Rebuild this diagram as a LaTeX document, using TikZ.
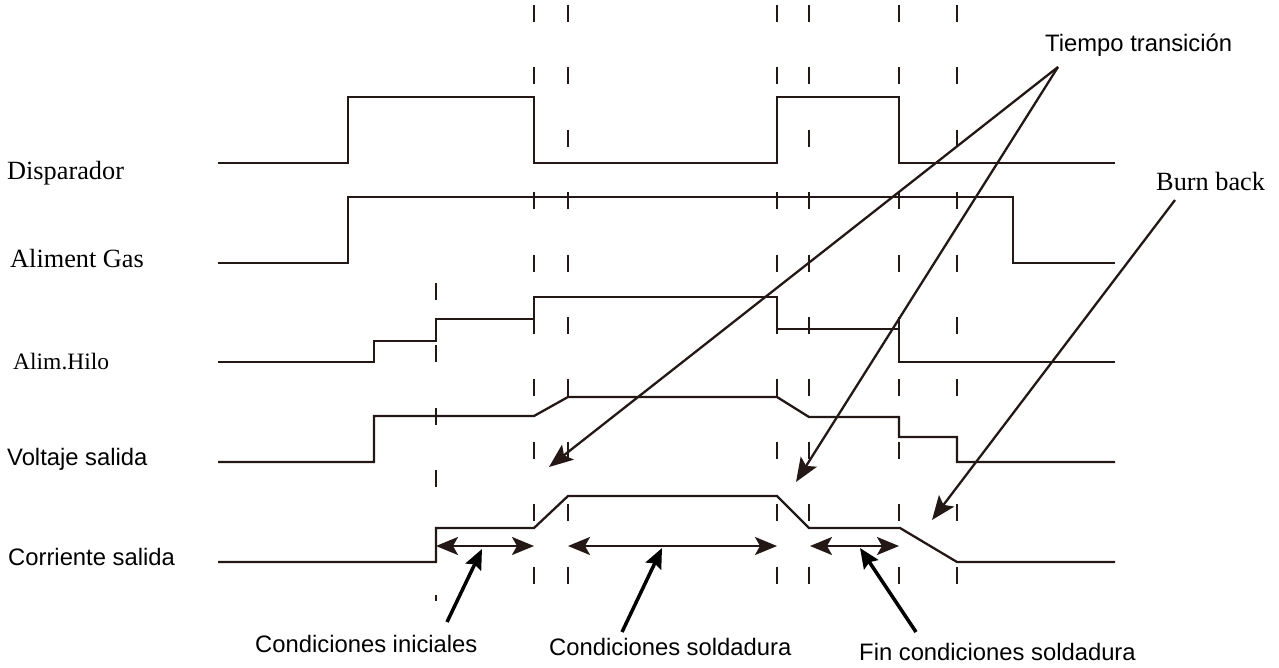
\documentclass[tikz,border=0pt]{standalone}
\usepackage{fontspec}
\setmainfont{Liberation Sans}
\newfontfamily\timesfont{Liberation Serif}
\usetikzlibrary{arrows.meta}
\definecolor{ink}{RGB}{35,24,21}

\begin{document}
\begin{tikzpicture}[
  x=1pt, y=-1pt,
  signal/.style={draw=ink, line width=2.3pt},
  guide/.style={draw=ink, line width=1.5pt, dash pattern=on 17pt off 45.4pt},
  sanslabel/.style={anchor=base west, inner sep=0pt, font=\fontsize{23.8}{28}\selectfont},
  seriflabel/.style={anchor=base west, inner sep=0pt, font=\timesfont\fontsize{26.3}{30}\selectfont},
  note/.style={draw=ink, line width=2.3pt, -{Stealth[length=24pt,width=19pt,inset=5pt]}},
  span/.style={draw=ink, line width=2.3pt,
    {Stealth[length=22pt,width=18pt,inset=5pt]}-{Stealth[length=22pt,width=18pt,inset=5pt]}},
  pointer/.style={draw=black, line width=3.5pt, -{Stealth[length=20pt,width=17pt,inset=3pt]}}
]
\useasboundingbox (0,0) rectangle (1279,668);

% time marks
\foreach \gx in {534,568,777,809,899,957}
  \draw[guide] (\gx,5) -- (\gx,586);
\draw[guide] (436,283) -- (436,601);

% signals
\draw[signal] (218,163) -- (348,163) -- (348,97) -- (534,97) -- (534,163) -- (777,163)
  -- (777,97) -- (899,97) -- (899,163) -- (1115,163);
\draw[signal] (218,263) -- (348,263) -- (348,197) -- (1013,197) -- (1013,263) -- (1115,263);
\draw[signal] (218,362) -- (374,362) -- (374,341) -- (436,341) -- (436,319) -- (534,319)
  -- (534,297) -- (777,297) -- (777,329) -- (899,329) -- (899,362) -- (1115,362);
\draw[signal] (218,462) -- (374,462) -- (374,416) -- (534,416) -- (568,397) -- (777,397)
  -- (809,417) -- (899,417) -- (899,437) -- (957,437) -- (957,462) -- (1115,462);
\draw[signal] (218,562) -- (436,562) -- (436,528) -- (534,528) -- (568,496) -- (777,496)
  -- (809,528) -- (900,528) -- (957,562) -- (1115,562);

% signal names
\node[seriflabel] (trigger) at (7,180) {Disparador};
\node[seriflabel] (gas) at (10,268) {Aliment Gas};
\node[seriflabel, font=\timesfont\fontsize{23.5}{28}\selectfont] (wire) at (13,369) {Alim.Hilo};
\node[sanslabel] (voltage) at (7,465) {Voltaje salida};
\node[sanslabel] (current) at (8,565) {Corriente salida};

% notes
\node[sanslabel] (transition) at (1045,52) {Tiempo transición};
\node[seriflabel] (burnback) at (1156,191) {Burn back};
\node[sanslabel] (initial) at (255,652) {Condiciones iniciales};
\node[sanslabel] (welding) at (549,655) {Condiciones soldadura};
\node[sanslabel] (final) at (859,660) {Fin condiciones soldadura};

\coordinate (tapex) at (1058,67);
\coordinate (trise) at (549,467);
\coordinate (tfall) at (796,482);
\coordinate (bstart) at (1175,200);
\coordinate (bend) at (932,520);
\draw[note] (tapex) -- (trise);
\draw[note] (tapex) -- (tfall);
\draw[note] (bstart) -- (bend);

% phase spans
\coordinate (s1a) at (436,546);
\coordinate (s1b) at (534,546);
\coordinate (s2a) at (568,546);
\coordinate (s2b) at (777,546);
\coordinate (s3a) at (810,546);
\coordinate (s3b) at (899,546);
\draw[span] (s1a) -- (s1b);
\draw[span] (s2a) -- (s2b);
\draw[span] (s3a) -- (s3b);

\coordinate (p1) at (447,622);
\coordinate (p2) at (622,632);
\coordinate (p3) at (916,632);
\draw[pointer] (p1) -- (482,549);
\draw[pointer] (p2) -- (662,548);
\draw[pointer] (p3) -- (860,548);

\end{tikzpicture}
\end{document}
